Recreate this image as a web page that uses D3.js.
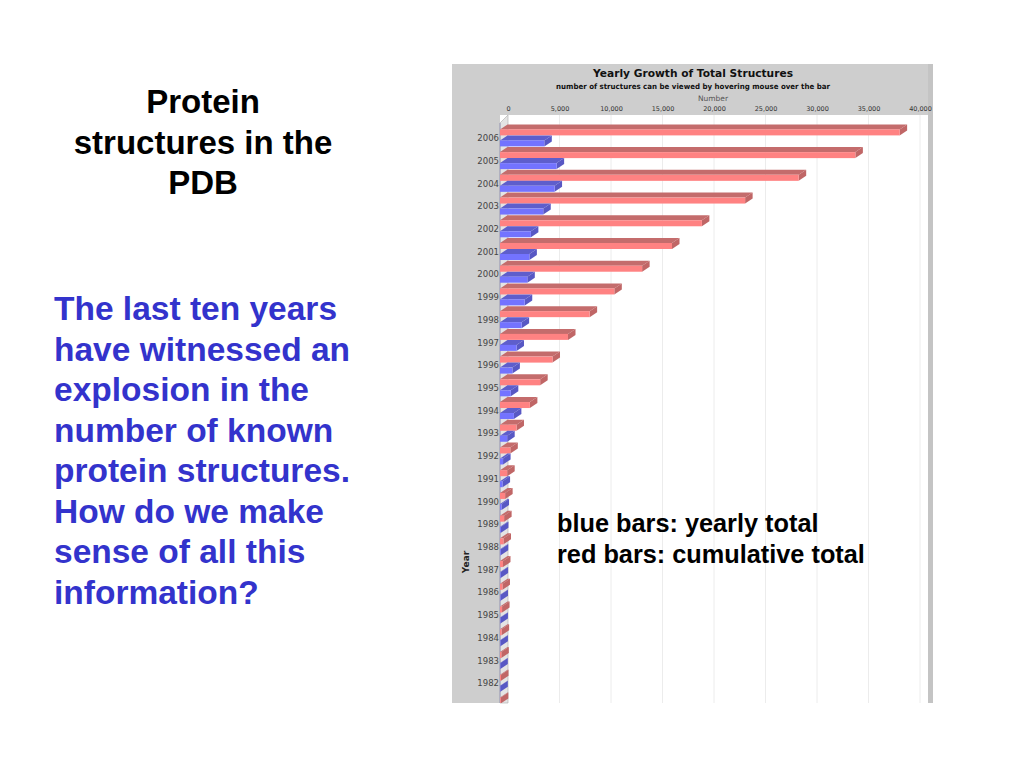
<!DOCTYPE html>
<html>
<head>
<meta charset="utf-8">
<script src="https://cdn.jsdelivr.net/npm/d3@7/dist/d3.min.js"></script>
<style>
  html, body { margin: 0; padding: 0; background: #ffffff; }
  svg { display: block; }
</style>
</head>
<body>
<svg id="slide" width="1024" height="768"></svg>
<script>
// ---- data ----
const years = ["2006","2005","2004","2003","2002","2001","2000","1999","1998","1997","1996","1995","1994",
               "1993","1992","1991","1990","1989","1988","1987","1986","1985","1984","1983","1982","1981"];
const cumulativeTotal = [38800, 34500, 29000, 23800, 19600, 16700, 13800, 11100, 8700, 6600, 5100, 3900, 2900,
                         1600, 1000, 700, 500, 400, 340, 290, 240, 200, 160, 130, 100, 80];
const yearlyTotal = [4300, 5500, 5300, 4200, 3000, 2850, 2650, 2400, 2100, 1600, 1200, 1050, 1350,
                     700, 300, 250, 150, 90, 70, 60, 50, 40, 40, 30, 30, 20];
const seriesNames = ["cumulative", "yearly"];
const xTicks = [0, 5000, 10000, 15000, 20000, 25000, 30000, 35000, 40000];

const titleLines = ["Protein", "structures in the", "PDB"];
const bodyLines = ["The last ten years", "have witnessed an", "explosion in the", "number of known",
                   "protein structures.", "How do we make", "sense of all this", "information?"];
const legendLines = ["blue bars: yearly total", "red bars: cumulative total"];

// ---- layout ----
const svg = d3.select("#slide");
const chart = { left: 452, top: 64, right: 933, bottom: 703 };
const plot = { left: 500, top: 115, right: 928, bottom: 703 };
const wallDx = 8, wallDy = 8;
const barDx = 7.5, barDy = 5;

// slide texts
const tText = svg.append("g")
  .attr("font-family", "'Liberation Sans', Arial, sans-serif")
  .attr("font-weight", "bold");
tText.selectAll("text.title").data(titleLines).join("text")
  .attr("class", "title")
  .attr("x", 203).attr("y", (d, i) => 113 + i * 40.5)
  .attr("text-anchor", "middle").attr("font-size", 33).attr("fill", "#000")
  .text(d => d);
tText.selectAll("text.body").data(bodyLines).join("text")
  .attr("class", "body")
  .attr("x", 54).attr("y", (d, i) => 320 + i * 40.5)
  .attr("font-size", 33.5).attr("fill", "#3333cc")
  .text(d => d);

// chart background
svg.append("rect").attr("x", chart.left).attr("y", chart.top)
  .attr("width", chart.right - chart.left).attr("height", chart.bottom - chart.top)
  .attr("fill", "#cecece");
svg.append("rect").attr("x", plot.left).attr("y", plot.top)
  .attr("width", plot.right - plot.left).attr("height", plot.bottom - plot.top)
  .attr("fill", "#ffffff");
svg.append("rect").attr("x", plot.right).attr("y", chart.top)
  .attr("width", chart.right - plot.right).attr("height", chart.bottom - chart.top)
  .attr("fill", "#c4c4c4");

// scales
const x = d3.scaleLinear().domain([0, 40000]).range([500, 912]);
const xBack = x.copy().range([500 + wallDx, 912 + wallDx]);
const y = d3.scaleBand().domain(years).range([127, 127 + years.length * 22.72]).padding(0);
const inner = d3.scaleBand().domain(seriesNames).range([2.4, 19.4]).paddingInner(0.4545);

// clip
svg.append("clipPath").attr("id", "plotClip").append("rect")
  .attr("x", chart.left).attr("y", plot.top).attr("width", plot.right - chart.left)
  .attr("height", plot.bottom - plot.top);

// left wall
svg.append("path")
  .attr("d", `M${plot.left},${plot.top + wallDy} L${plot.left + wallDx},${plot.top} L${plot.left + wallDx},${plot.bottom} L${plot.left},${plot.bottom} Z`)
  .attr("fill", "#e4e4e4").attr("stroke", "#b4b4b4").attr("stroke-width", 0.7);
svg.append("line").attr("x1", plot.left).attr("x2", plot.left)
  .attr("y1", plot.top + wallDy).attr("y2", plot.bottom)
  .attr("stroke", "#9a9ab8").attr("stroke-width", 1);

// gridlines on back wall
svg.append("g").selectAll("line").data(xTicks.slice(1)).join("line")
  .attr("x1", d => xBack(d)).attr("x2", d => xBack(d))
  .attr("y1", plot.top).attr("y2", plot.bottom)
  .attr("stroke", "#ececec").attr("stroke-width", 1);

// titles
svg.append("text").attr("x", 693).attr("y", 77).attr("text-anchor", "middle")
  .attr("font-family", "'DejaVu Sans', sans-serif").attr("font-weight", "bold")
  .attr("font-size", 11).attr("textLength", 200).attr("lengthAdjust", "spacingAndGlyphs")
  .attr("fill", "#111").text("Yearly Growth of Total Structures");
svg.append("text").attr("x", 693).attr("y", 89).attr("text-anchor", "middle")
  .attr("font-family", "'DejaVu Sans', sans-serif").attr("font-weight", "bold")
  .attr("font-size", 7.5).attr("textLength", 274).attr("lengthAdjust", "spacingAndGlyphs")
  .attr("fill", "#111").text("number of structures can be viewed by hovering mouse over the bar");
svg.append("text").attr("x", 713).attr("y", 101).attr("text-anchor", "middle")
  .attr("font-family", "'DejaVu Sans', sans-serif").attr("font-size", 7.5)
  .attr("fill", "#555").text("Number");

// top axis
const xAxis = d3.axisTop(xBack).tickValues(xTicks).tickSize(0).tickPadding(0)
  .tickFormat(d3.format(","));
const axG = svg.append("g").attr("transform", "translate(0,111)").call(xAxis);
axG.select(".domain").remove();
axG.selectAll("text").attr("font-family", "'DejaVu Sans', sans-serif")
  .attr("font-size", 6.5).attr("fill", "#333");

// y axis labels
const yAxis = d3.axisLeft(y).tickSize(0).tickPadding(0);
const ayG = svg.append("g").attr("transform", "translate(499,0)").call(yAxis);
ayG.select(".domain").remove();
ayG.selectAll("text").attr("font-family", "'DejaVu Sans', sans-serif")
  .attr("font-size", 8.5).attr("fill", "#444");
ayG.selectAll(".tick").filter(d => y(d) + y.bandwidth() / 2 > plot.bottom - 8).remove();
svg.append("text")
  .attr("transform", "translate(469,562) rotate(-90)")
  .attr("text-anchor", "middle")
  .attr("font-family", "'DejaVu Sans', sans-serif").attr("font-weight", "bold")
  .attr("font-size", 9).attr("fill", "#222").text("Year");

// bars
const rows = years.map((yr, i) => ({ year: yr, cumulative: cumulativeTotal[i], yearly: yearlyTotal[i] }));
const colors = {
  cumulative: { front: "#ff8282", top: "#c46c6c", side: "#c06666" },
  yearly: { front: "#7373ff", top: "#5e5ecc", side: "#5858c4" }
};
const barG = svg.append("g").attr("clip-path", "url(#plotClip)");
const barData = [];
rows.forEach(r => seriesNames.forEach(s => barData.push({ year: r.year, series: s, value: r[s] })));
const bars = barG.selectAll("g.bar").data(barData).join("g").attr("class", "bar");
bars.each(function(d) {
  const g = d3.select(this);
  const x0 = x(0), x1 = x(d.value);
  const y0 = y(d.year) + inner(d.series);
  const h = inner.bandwidth();
  const c = colors[d.series];
  g.append("path")
    .attr("d", `M${x0},${y0} L${x0 + barDx},${y0 - barDy} L${x1 + barDx},${y0 - barDy} L${x1},${y0} Z`)
    .attr("fill", c.top);
  g.append("path")
    .attr("d", `M${x1},${y0} L${x1 + barDx},${y0 - barDy} L${x1 + barDx},${y0 + h - barDy} L${x1},${y0 + h} Z`)
    .attr("fill", c.side);
  g.append("rect").attr("x", x0).attr("y", y0).attr("width", Math.max(0, x1 - x0)).attr("height", h)
    .attr("fill", c.front);
});

// legend text
svg.append("g").selectAll("text").data(legendLines).join("text")
  .attr("x", 557).attr("y", (d, i) => 532 + i * 30.5)
  .attr("font-family", "'Liberation Sans', Arial, sans-serif").attr("font-weight", "bold")
  .attr("font-size", 25.3).attr("fill", "#000").text(d => d);
</script>
</body>
</html>
